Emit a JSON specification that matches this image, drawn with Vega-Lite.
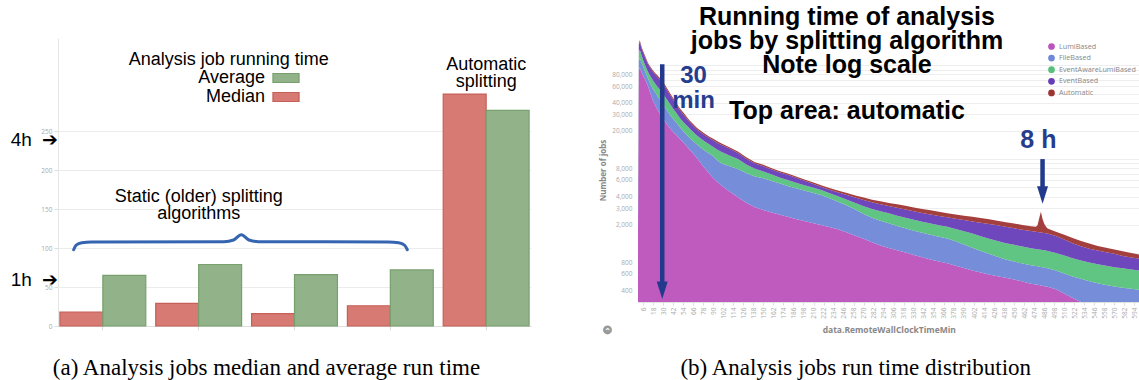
{
  "$schema": "https://vega.github.io/schema/vega-lite/v6.json",
  "padding": {"left": 10, "top": 5, "right": 0, "bottom": 0},
  "bounds": "flush",
  "spacing": 107,
  "resolve": {"scale": {"color": "independent", "stroke": "independent"}},
  "config": {"view": {"stroke": null}, "font": "Liberation Sans"},
  "datasets": {
    "dist": [
      {"t":0,"LumiBased":1650,"FileBased":1250,"EventAwareLumiBased":1100,"EventBased":400,"Automatic":150},
      {"t":1,"LumiBased":88000,"FileBased":24000,"EventAwareLumiBased":26000,"EventBased":27000,"Automatic":5000},
      {"t":2,"LumiBased":95000,"FileBased":24000,"EventAwareLumiBased":27000,"EventBased":34000,"Automatic":6000},
      {"t":3,"LumiBased":90000,"FileBased":24000,"EventAwareLumiBased":26000,"EventBased":28000,"Automatic":6000},
      {"t":4,"LumiBased":86000,"FileBased":22000,"EventAwareLumiBased":22000,"EventBased":25000,"Automatic":5000},
      {"t":6,"LumiBased":78000,"FileBased":20000,"EventAwareLumiBased":17000,"EventBased":23000,"Automatic":5000},
      {"t":8,"LumiBased":72000,"FileBased":16000,"EventAwareLumiBased":15000,"EventBased":22000,"Automatic":5000},
      {"t":10,"LumiBased":66000,"FileBased":14000,"EventAwareLumiBased":14000,"EventBased":19000,"Automatic":4000},
      {"t":12,"LumiBased":60000,"FileBased":12000,"EventAwareLumiBased":13000,"EventBased":18000,"Automatic":3000},
      {"t":15,"LumiBased":50000,"FileBased":13000,"EventAwareLumiBased":13000,"EventBased":17000,"Automatic":3000},
      {"t":18,"LumiBased":42000,"FileBased":14000,"EventAwareLumiBased":13000,"EventBased":16000,"Automatic":3000},
      {"t":21,"LumiBased":37000,"FileBased":14000,"EventAwareLumiBased":12000,"EventBased":16000,"Automatic":3000},
      {"t":24,"LumiBased":33000,"FileBased":13000,"EventAwareLumiBased":12000,"EventBased":16000,"Automatic":3000},
      {"t":27,"LumiBased":29500,"FileBased":12500,"EventAwareLumiBased":12000,"EventBased":15000,"Automatic":3000},
      {"t":30,"LumiBased":27000,"FileBased":11500,"EventAwareLumiBased":11500,"EventBased":14000,"Automatic":3000},
      {"t":34,"LumiBased":24000,"FileBased":10000,"EventAwareLumiBased":10000,"EventBased":12000,"Automatic":2500},
      {"t":38,"LumiBased":21500,"FileBased":8500,"EventAwareLumiBased":9000,"EventBased":10000,"Automatic":2000},
      {"t":42,"LumiBased":19500,"FileBased":7500,"EventAwareLumiBased":7500,"EventBased":8500,"Automatic":2000},
      {"t":46,"LumiBased":18000,"FileBased":6500,"EventAwareLumiBased":6500,"EventBased":7000,"Automatic":1500},
      {"t":50,"LumiBased":16500,"FileBased":5500,"EventAwareLumiBased":5500,"EventBased":6000,"Automatic":1500},
      {"t":55,"LumiBased":14800,"FileBased":4700,"EventAwareLumiBased":5000,"EventBased":5000,"Automatic":1300},
      {"t":60,"LumiBased":13200,"FileBased":4300,"EventAwareLumiBased":4500,"EventBased":4000,"Automatic":1000},
      {"t":65,"LumiBased":11800,"FileBased":4000,"EventAwareLumiBased":4000,"EventBased":3400,"Automatic":900},
      {"t":70,"LumiBased":10400,"FileBased":4100,"EventAwareLumiBased":3500,"EventBased":3000,"Automatic":800},
      {"t":75,"LumiBased":9100,"FileBased":4200,"EventAwareLumiBased":3300,"EventBased":2800,"Automatic":700},
      {"t":80,"LumiBased":8000,"FileBased":4300,"EventAwareLumiBased":3100,"EventBased":2600,"Automatic":700},
      {"t":85,"LumiBased":7100,"FileBased":4400,"EventAwareLumiBased":2900,"EventBased":2500,"Automatic":600},
      {"t":90,"LumiBased":6300,"FileBased":4500,"EventAwareLumiBased":2700,"EventBased":2400,"Automatic":600},
      {"t":95,"LumiBased":5700,"FileBased":4000,"EventAwareLumiBased":2900,"EventBased":2300,"Automatic":600},
      {"t":100,"LumiBased":5200,"FileBased":3800,"EventAwareLumiBased":2900,"EventBased":2300,"Automatic":500},
      {"t":110,"LumiBased":4500,"FileBased":3900,"EventAwareLumiBased":2500,"EventBased":2000,"Automatic":400},
      {"t":120,"LumiBased":3900,"FileBased":3900,"EventAwareLumiBased":2200,"EventBased":1600,"Automatic":400},
      {"t":130,"LumiBased":3400,"FileBased":3700,"EventAwareLumiBased":1600,"EventBased":1350,"Automatic":350},
      {"t":140,"LumiBased":3080,"FileBased":3470,"EventAwareLumiBased":1350,"EventBased":1100,"Automatic":300},
      {"t":150,"LumiBased":2880,"FileBased":3370,"EventAwareLumiBased":1150,"EventBased":1000,"Automatic":300},
      {"t":160,"LumiBased":2700,"FileBased":3150,"EventAwareLumiBased":1000,"EventBased":900,"Automatic":250},
      {"t":170,"LumiBased":2560,"FileBased":2940,"EventAwareLumiBased":850,"EventBased":850,"Automatic":250},
      {"t":180,"LumiBased":2420,"FileBased":2730,"EventAwareLumiBased":800,"EventBased":830,"Automatic":220},
      {"t":190,"LumiBased":2290,"FileBased":2570,"EventAwareLumiBased":700,"EventBased":730,"Automatic":210},
      {"t":200,"LumiBased":2180,"FileBased":2420,"EventAwareLumiBased":650,"EventBased":600,"Automatic":200},
      {"t":210,"LumiBased":2080,"FileBased":2290,"EventAwareLumiBased":580,"EventBased":500,"Automatic":200},
      {"t":220,"LumiBased":1980,"FileBased":2150,"EventAwareLumiBased":520,"EventBased":400,"Automatic":200},
      {"t":230,"LumiBased":1880,"FileBased":1920,"EventAwareLumiBased":500,"EventBased":400,"Automatic":200},
      {"t":240,"LumiBased":1780,"FileBased":1720,"EventAwareLumiBased":500,"EventBased":400,"Automatic":200},
      {"t":250,"LumiBased":1650,"FileBased":1550,"EventAwareLumiBased":500,"EventBased":450,"Automatic":200},
      {"t":260,"LumiBased":1530,"FileBased":1370,"EventAwareLumiBased":500,"EventBased":500,"Automatic":200},
      {"t":270,"LumiBased":1420,"FileBased":1180,"EventAwareLumiBased":550,"EventBased":530,"Automatic":220},
      {"t":280,"LumiBased":1300,"FileBased":1080,"EventAwareLumiBased":570,"EventBased":530,"Automatic":220},
      {"t":290,"LumiBased":1200,"FileBased":1000,"EventAwareLumiBased":580,"EventBased":520,"Automatic":250},
      {"t":300,"LumiBased":1130,"FileBased":940,"EventAwareLumiBased":580,"EventBased":520,"Automatic":250},
      {"t":310,"LumiBased":1070,"FileBased":870,"EventAwareLumiBased":560,"EventBased":530,"Automatic":270},
      {"t":320,"LumiBased":1010,"FileBased":820,"EventAwareLumiBased":550,"EventBased":520,"Automatic":280},
      {"t":330,"LumiBased":950,"FileBased":780,"EventAwareLumiBased":530,"EventBased":520,"Automatic":280},
      {"t":340,"LumiBased":900,"FileBased":740,"EventAwareLumiBased":510,"EventBased":520,"Automatic":280},
      {"t":350,"LumiBased":850,"FileBased":710,"EventAwareLumiBased":500,"EventBased":510,"Automatic":280},
      {"t":360,"LumiBased":810,"FileBased":680,"EventAwareLumiBased":490,"EventBased":500,"Automatic":270},
      {"t":370,"LumiBased":775,"FileBased":655,"EventAwareLumiBased":470,"EventBased":500,"Automatic":250},
      {"t":380,"LumiBased":730,"FileBased":600,"EventAwareLumiBased":470,"EventBased":510,"Automatic":260},
      {"t":390,"LumiBased":690,"FileBased":540,"EventAwareLumiBased":470,"EventBased":540,"Automatic":260},
      {"t":400,"LumiBased":650,"FileBased":490,"EventAwareLumiBased":470,"EventBased":560,"Automatic":260},
      {"t":410,"LumiBased":620,"FileBased":430,"EventAwareLumiBased":460,"EventBased":590,"Automatic":260},
      {"t":420,"LumiBased":590,"FileBased":390,"EventAwareLumiBased":440,"EventBased":620,"Automatic":250},
      {"t":430,"LumiBased":565,"FileBased":345,"EventAwareLumiBased":430,"EventBased":630,"Automatic":240},
      {"t":440,"LumiBased":545,"FileBased":305,"EventAwareLumiBased":420,"EventBased":630,"Automatic":230},
      {"t":450,"LumiBased":520,"FileBased":290,"EventAwareLumiBased":410,"EventBased":610,"Automatic":230},
      {"t":460,"LumiBased":495,"FileBased":275,"EventAwareLumiBased":400,"EventBased":600,"Automatic":220},
      {"t":470,"LumiBased":470,"FileBased":270,"EventAwareLumiBased":380,"EventBased":590,"Automatic":220},
      {"t":476,"LumiBased":460,"FileBased":265,"EventAwareLumiBased":375,"EventBased":580,"Automatic":220},
      {"t":478,"LumiBased":458,"FileBased":262,"EventAwareLumiBased":375,"EventBased":578,"Automatic":300},
      {"t":480,"LumiBased":455,"FileBased":260,"EventAwareLumiBased":375,"EventBased":575,"Automatic":685},
      {"t":482,"LumiBased":450,"FileBased":260,"EventAwareLumiBased":370,"EventBased":575,"Automatic":1095},
      {"t":484,"LumiBased":447,"FileBased":258,"EventAwareLumiBased":370,"EventBased":570,"Automatic":655},
      {"t":486,"LumiBased":443,"FileBased":257,"EventAwareLumiBased":370,"EventBased":565,"Automatic":415},
      {"t":488,"LumiBased":440,"FileBased":255,"EventAwareLumiBased":368,"EventBased":562,"Automatic":290},
      {"t":490,"LumiBased":435,"FileBased":250,"EventAwareLumiBased":365,"EventBased":560,"Automatic":210},
      {"t":500,"LumiBased":410,"FileBased":240,"EventAwareLumiBased":350,"EventBased":520,"Automatic":160},
      {"t":510,"LumiBased":370,"FileBased":235,"EventAwareLumiBased":335,"EventBased":450,"Automatic":170},
      {"t":520,"LumiBased":330,"FileBased":230,"EventAwareLumiBased":320,"EventBased":390,"Automatic":170},
      {"t":530,"LumiBased":290,"FileBased":240,"EventAwareLumiBased":300,"EventBased":350,"Automatic":160},
      {"t":540,"LumiBased":250,"FileBased":250,"EventAwareLumiBased":290,"EventBased":320,"Automatic":150},
      {"t":550,"LumiBased":220,"FileBased":255,"EventAwareLumiBased":285,"EventBased":300,"Automatic":130},
      {"t":560,"LumiBased":200,"FileBased":255,"EventAwareLumiBased":275,"EventBased":290,"Automatic":120},
      {"t":570,"LumiBased":180,"FileBased":260,"EventAwareLumiBased":265,"EventBased":275,"Automatic":110},
      {"t":580,"LumiBased":165,"FileBased":260,"EventAwareLumiBased":260,"EventBased":245,"Automatic":110},
      {"t":590,"LumiBased":155,"FileBased":260,"EventAwareLumiBased":250,"EventBased":230,"Automatic":105},
      {"t":600,"LumiBased":145,"FileBased":260,"EventAwareLumiBased":245,"EventBased":220,"Automatic":90}
    ]
  },
  "hconcat": [
    {
      "width": 473,
      "height": 288,
      "title": {"text": "(a) Analysis jobs median and average run time", "orient": "bottom", "font": "Liberation Serif", "fontSize": 23, "fontWeight": "normal", "color": "#000000", "anchor": "middle", "dx": -28, "offset": 26},
      "resolve": {"scale": {"x": "independent"}, "axis": {"y": "independent"}},
      "layer": [
        {
          "data": {"values": [
            {"alg": "LumiBased", "m": "Median", "v": 18},
            {"alg": "LumiBased", "m": "Average", "v": 65},
            {"alg": "FileBased", "m": "Median", "v": 29},
            {"alg": "FileBased", "m": "Average", "v": 79},
            {"alg": "EventAwareLumiBased", "m": "Median", "v": 16},
            {"alg": "EventAwareLumiBased", "m": "Average", "v": 66},
            {"alg": "EventBased", "m": "Median", "v": 26},
            {"alg": "EventBased", "m": "Average", "v": 72},
            {"alg": "Automatic", "m": "Median", "v": 298},
            {"alg": "Automatic", "m": "Average", "v": 277}
          ]},
          "mark": {"type": "bar", "strokeWidth": 1.2},
          "encoding": {
            "x": {"field": "alg", "type": "nominal", "sort": null,
                  "scale": {"type": "band", "domain": ["LumiBased", "FileBased", "EventAwareLumiBased", "EventBased", "Automatic"], "paddingInner": 0.104, "paddingOuter": 0.02},
                  "axis": {"labels": false, "title": null, "domainColor": "#dddddd", "tickColor": "#dddddd", "tickSize": 4}},
            "xOffset": {"field": "m", "type": "nominal", "scale": {"domain": ["Median", "Average"], "paddingInner": 0, "paddingOuter": 0}},
            "y": {"field": "v", "type": "quantitative", "scale": {"domain": [0, 370], "nice": false},
                  "axis": {"values": [0, 50, 100, 150, 200, 250], "title": null, "grid": true, "labelFontSize": 6.5, "labelFont": "Open Sans", "labelColor": "#aaaaaa", "tickColor": "#dddddd", "tickSize": 4, "labelPadding": 2, "gridColor": "#ececec", "domainColor": "#e6e6e6"}},
            "color": {"field": "m", "type": "nominal",
                      "scale": {"domain": ["Average", "Median"], "range": ["#92b28a", "#d67a73"]},
                      "legend": {
                        "orient": "none", "legendX": 218, "legendY": 30, "padding": 0,
                        "title": null,
                        "labelFontSize": 18, "labelColor": "#000000", "labelFont": "Liberation Sans", "labelAlign": "right", "labelOffset": -31, "labelLimit": 200,
                        "symbolType": "M-1.45,-0.5L1.45,-0.5L1.45,0.5L-1.45,0.5Z", "symbolSize": 324, "symbolStrokeWidth": 1.2, "symbolStrokeColor": "#5a7dbb", "symbolOpacity": 1,
                        "rowPadding": 0,
                        "encode": {"symbols": {"update": {"fill": {"signal": "datum.label === 'Average' ? '#8cc66b' : '#ef6b57'"}, "stroke": {"value": "#5a7dbb"}}}}
                      }},
            "stroke": {"field": "m", "type": "nominal", "scale": {"domain": ["Average", "Median"], "range": ["#77a06d", "#c65f58"]}, "legend": null}
          }
        },
        {
          "data": {"values": [{}]},
          "mark": {"type": "text", "text": "Analysis job running time", "fontSize": 18, "font": "Liberation Sans", "color": "#000000", "align": "center", "baseline": "middle"},
          "encoding": {
            "x": {"datum": "FileBased", "type": "nominal", "bandPosition": 0.85, "axis": null,
                  "scale": {"type": "band", "domain": ["LumiBased", "FileBased", "EventAwareLumiBased", "EventBased", "Automatic"], "paddingInner": 0.104, "paddingOuter": 0.02}},
            "y": {"datum": 341.7, "type": "quantitative", "axis": null}
          }
        },
        {
          "data": {"values": [{}]},
          "mark": {"type": "text", "text": ["Automatic", "splitting"], "fontSize": 18, "lineHeight": 17, "font": "Liberation Sans", "color": "#000000", "align": "center", "baseline": "middle"},
          "encoding": {
            "x": {"datum": "Automatic", "type": "nominal", "bandPosition": 0.5, "axis": null,
                  "scale": {"type": "band", "domain": ["LumiBased", "FileBased", "EventAwareLumiBased", "EventBased", "Automatic"], "paddingInner": 0.104, "paddingOuter": 0.02}},
            "y": {"datum": 335, "type": "quantitative", "axis": null}
          }
        },
        {
          "data": {"values": [{}]},
          "mark": {"type": "text", "text": ["Static (older) splitting", "algorithms"], "fontSize": 18, "lineHeight": 17, "font": "Liberation Sans", "color": "#000000", "align": "center", "baseline": "middle"},
          "encoding": {
            "x": {"datum": "FileBased", "type": "nominal", "bandPosition": 0.5, "axis": null,
                  "scale": {"type": "band", "domain": ["LumiBased", "FileBased", "EventAwareLumiBased", "EventBased", "Automatic"], "paddingInner": 0.104, "paddingOuter": 0.02}},
            "y": {"datum": 165.7, "type": "quantitative", "axis": null}
          }
        },
        {
          "data": {"values": [
            {"k": 0.694, "y": 98},
            {"k": 0.72, "y": 104},
            {"k": 0.78, "y": 107},
            {"k": 0.88, "y": 108},
            {"k": 2.26, "y": 108.3},
            {"k": 2.36, "y": 110.5},
            {"k": 2.44, "y": 117.3},
            {"k": 2.52, "y": 110.5},
            {"k": 2.62, "y": 108.3},
            {"k": 3.97, "y": 108},
            {"k": 4.08, "y": 107},
            {"k": 4.14, "y": 104},
            {"k": 4.17, "y": 98}
          ]},
          "mark": {"type": "line", "interpolate": "monotone", "stroke": "#3565b0", "strokeWidth": 3, "strokeCap": "round"},
          "encoding": {
            "x": {"field": "k", "type": "quantitative", "scale": {"domain": [0.531, 5.458], "nice": false, "zero": false}, "axis": null},
            "y": {"field": "y", "type": "quantitative", "scale": {"domain": [0, 370], "nice": false},
                  "axis": {"orient": "left", "values": [60, 240], "labelExpr": "datum.value == 240 ? '4h\u00a0 ➔' : '1h\u00a0 ➔'", "labelFontSize": 19, "labelColor": "#000000", "labelFont": "Liberation Sans", "ticks": false, "domain": false, "grid": false, "title": null, "labelPadding": 0, "labelBaseline": "middle"}}
          }
        }
      ]
    },
    {
      "width": 501.5,
      "height": 264,
      "title": {"text": "(b) Analysis jobs run time distribution", "orient": "bottom", "font": "Liberation Serif", "fontSize": 23, "fontWeight": "normal", "color": "#000000", "anchor": "middle", "dx": -33, "offset": 21},
      "resolve": {"scale": {"y": "independent"}},
      "encoding": {
        "x": {"field": "t", "type": "quantitative", "scale": {"domain": [0, 600], "nice": false, "zero": false},
              "axis": {"values": [6,18,30,42,54,66,78,90,102,114,126,138,150,162,174,186,198,210,222,234,246,258,270,282,294,306,318,330,342,354,366,378,390,402,414,426,438,450,462,474,486,498,510,522,534,546,558,570,582,594],
                       "labelAngle": -90, "labelFontSize": 6.5, "labelFont": "Open Sans", "labelColor": "#aaaaaa", "labelOverlap": false, "labelFlush": false, "labelPadding": 2,
                       "tickColor": "#dddddd", "tickSize": 3, "domainColor": "#e0e0e0", "grid": false,
                       "title": "data.RemoteWallClockTimeMin", "titleFontSize": 8.5, "titleFont": "Open Sans", "titleColor": "#888888", "titleFontWeight": "bold", "titlePadding": 7}}
      },
      "layer": [
        {
          "data": {"name": "dist"},
          "transform": [
            {"fold": ["LumiBased", "FileBased", "EventAwareLumiBased", "EventBased", "Automatic"], "as": ["algo", "jobs"]},
            {"stack": "jobs", "groupby": ["t"], "as": ["lo", "hi"]}
          ],
          "mark": {"type": "area", "interpolate": "linear", "opacity": 0.95},
          "encoding": {
            "y": {"field": "hi", "type": "quantitative", "scale": {"type": "log", "domain": [300, 196000], "nice": false, "clamp": true},
                  "axis": {"values": [300,400,500,600,700,800,900,1000,2000,3000,4000,5000,6000,7000,8000,9000,10000,20000,30000,40000,50000,60000,70000,80000,90000,100000],
                           "labelExpr": "indexof([400,600,800,2000,3000,4000,6000,8000,20000,30000,40000,60000,80000], datum.value) >= 0 ? format(datum.value, ',') : ''",
                           "labelFontSize": 6.5, "labelFont": "Open Sans", "labelColor": "#aaaaaa", "labelPadding": 6, "labelOverlap": false,
                           "ticks": false, "domain": false, "grid": true, "gridColor": "#eeeeee",
                           "title": "Number of jobs", "titleFontSize": 8, "titleFont": "Open Sans", "titleColor": "#888888", "titleFontWeight": "bold", "titlePadding": 4}},
            "y2": {"field": "lo"},
            "color": {"field": "algo", "type": "nominal",
                      "scale": {"domain": ["LumiBased", "FileBased", "EventAwareLumiBased", "EventBased", "Automatic"], "range": ["#bc52bc", "#6f87d8", "#57c17b", "#663db8", "#9e3533"]},
                      "legend": {"orient": "none", "legendX": 409, "legendY": 4, "title": null, "labelFontSize": 7.2, "labelColor": "#888888", "labelFont": "Open Sans", "symbolType": "circle", "symbolSize": 45, "rowPadding": 3.6, "symbolOpacity": 1, "labelOffset": 3, "padding": 0}}
          }
        },
        {
          "data": {"values": [{"t": 250}]},
          "mark": {"type": "text", "text": ["Running time of analysis", "jobs by splitting algorithm", "Note log scale"], "fontSize": 25, "fontWeight": "bold", "lineHeight": 24, "font": "Liberation Sans", "color": "#000000", "align": "center", "baseline": "middle"},
          "encoding": {"y": {"datum": 324300, "type": "quantitative", "scale": {"type": "log", "domain": [300, 196000], "nice": false}, "axis": null}}
        },
        {
          "data": {"values": [{"t": 250}]},
          "mark": {"type": "text", "text": "Top area: automatic", "fontSize": 25, "fontWeight": "bold", "font": "Liberation Sans", "color": "#000000", "align": "center", "baseline": "middle"},
          "encoding": {"y": {"datum": 32600, "type": "quantitative", "scale": {"type": "log", "domain": [300, 196000], "nice": false}, "axis": null}}
        },
        {
          "data": {"values": [{"t": 66.4}]},
          "mark": {"type": "text", "text": ["30", "min"], "fontSize": 24, "fontWeight": "bold", "lineHeight": 25, "font": "Liberation Sans", "color": "#263d8e", "align": "center", "baseline": "middle"},
          "encoding": {"y": {"datum": 77500, "type": "quantitative", "scale": {"type": "log", "domain": [300, 196000], "nice": false}, "axis": null}}
        },
        {
          "data": {"values": [{"t": 479}]},
          "mark": {"type": "text", "text": "8 h", "fontSize": 25, "fontWeight": "bold", "font": "Liberation Sans", "color": "#263d8e", "align": "center", "baseline": "middle"},
          "encoding": {"y": {"datum": 16000, "type": "quantitative", "scale": {"type": "log", "domain": [300, 196000], "nice": false}, "axis": null}}
        },
        {
          "data": {"values": [{"t": 29}]},
          "mark": {"type": "rule", "strokeWidth": 4.5, "color": "#233a8c"},
          "encoding": {"y": {"datum": 102600, "type": "quantitative", "scale": {"type": "log", "domain": [300, 196000], "nice": false}, "axis": null}, "y2": {"datum": 490}}
        },
        {
          "data": {"values": [{"t": 484}]},
          "mark": {"type": "rule", "strokeWidth": 4.5, "color": "#233a8c"},
          "encoding": {"y": {"datum": 10020, "type": "quantitative", "scale": {"type": "log", "domain": [300, 196000], "nice": false}, "axis": null}, "y2": {"datum": 4940}}
        },
        {
          "data": {"values": [{"t": 29}]},
          "mark": {"type": "point", "shape": "M-1,-1.6L1,-1.6L0,1.6Z", "size": 121, "filled": true, "opacity": 1, "color": "#233a8c"},
          "encoding": {"y": {"datum": 400, "type": "quantitative", "scale": {"type": "log", "domain": [300, 196000], "nice": false}, "axis": null}}
        },
        {
          "data": {"values": [{"t": 484}]},
          "mark": {"type": "point", "shape": "M-1,-1.6L1,-1.6L0,1.6Z", "size": 121, "filled": true, "opacity": 1, "color": "#233a8c"},
          "encoding": {"y": {"datum": 4150, "type": "quantitative", "scale": {"type": "log", "domain": [300, 196000], "nice": false}, "axis": null}}
        },
        {
          "data": {"values": [{"t": -36.5}]},
          "mark": {"type": "point", "shape": "circle", "size": 80, "filled": true, "opacity": 1, "color": "#9a9a9a"},
          "encoding": {"y": {"datum": 151, "type": "quantitative", "scale": {"type": "log", "domain": [300, 196000], "nice": false}, "axis": null}}
        },
        {
          "data": {"values": [{"t": -36.5}]},
          "mark": {"type": "text", "text": "⌃", "fontSize": 8, "fontWeight": "bold", "font": "DejaVu Sans", "color": "#ffffff", "align": "center", "baseline": "middle", "dy": 2},
          "encoding": {"y": {"datum": 151, "type": "quantitative", "scale": {"type": "log", "domain": [300, 196000], "nice": false}, "axis": null}}
        }
      ]
    }
  ]
}
